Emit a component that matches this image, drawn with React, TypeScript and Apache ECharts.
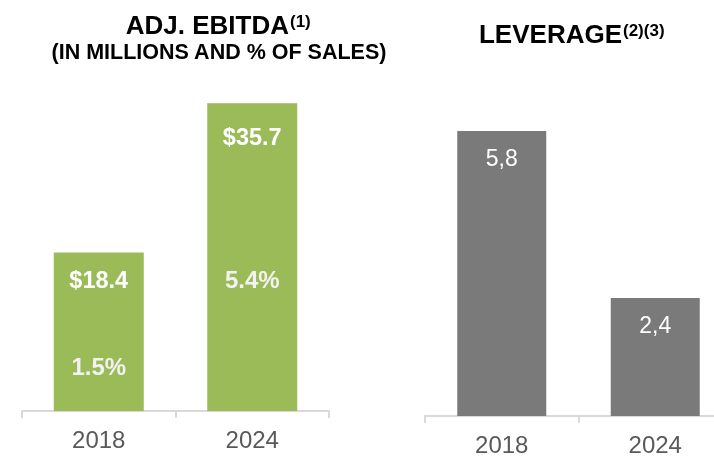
import React, { useEffect, useRef } from "react";
import * as echarts from "echarts";

const years = ["2018", "2024"];
const ebitda = [18.4, 35.7];
const ebitdaLabels = ["$18.4", "$35.7"];
const marginLabels = ["1.5%", "5.4%"];
const leverage = [5.8, 2.4];
const leverageLabels = ["5,8", "2,4"];

const FONT = "'Liberation Sans', Arial, sans-serif";
const GREEN = "#9BBB59";
const GREY = "#7A7A7A";
const AXIS = "#D9D9D9";
const TXT = "#595959";

// label layout (px) for the left bars
const topGap = [14.6, 20.7];
const midGap = [60.7, 116.3];

export default function App() {
  const ref = useRef<HTMLDivElement>(null);
  useEffect(() => {
    if (!ref.current) return;
    const chart = echarts.init(ref.current, undefined, { renderer: "svg" });
    const axisCommon = {
      type: "category",
      boundaryGap: true,
      axisLine: { show: true, lineStyle: { color: AXIS, width: 2 } },
      axisTick: { show: true, alignWithLabel: false, length: 7, lineStyle: { color: AXIS, width: 2 } },
      axisLabel: { color: TXT, fontSize: 24, fontFamily: FONT, margin: 16 },
    };
    chart.setOption({
      animation: false,
      grid: [
        { left: 22, width: 307, top: 66.2, height: 344.8 },
        { left: 425, width: 307, top: 72.1, height: 347.2 },
      ],
      xAxis: [
        { ...axisCommon, gridIndex: 0, data: years },
        { ...axisCommon, gridIndex: 1, data: years },
      ],
      yAxis: [
        { type: "value", gridIndex: 0, min: 0, max: 40, show: false, splitLine: { show: false } },
        { type: "value", gridIndex: 1, min: 0, max: 7, show: false, splitLine: { show: false } },
      ],
      series: [
        {
          type: "bar",
          xAxisIndex: 0,
          yAxisIndex: 0,
          barWidth: 90,
          itemStyle: { color: GREEN },
          data: ebitda.map((v, i) => ({
            value: v,
            label: {
              show: true,
              position: "insideTop",
              distance: topGap[i],
              formatter: `{v|${ebitdaLabels[i]}}\n{s| }\n{p|${marginLabels[i]}}`,
              rich: {
                v: { color: "#FFFFFF", fontSize: 23.5, fontWeight: "bold", fontFamily: FONT, lineHeight: 26 },
                s: { fontSize: 1, lineHeight: midGap[i] },
                p: { color: "#F2F2F2", fontSize: 24, fontWeight: "bold", fontFamily: FONT, lineHeight: 26 },
              },
            },
          })),
        },
        {
          type: "bar",
          xAxisIndex: 1,
          yAxisIndex: 1,
          barWidth: 89,
          itemStyle: { color: GREY },
          label: {
            show: true,
            position: "insideTop",
            distance: 14,
            color: "#FFFFFF",
            fontSize: 23,
            fontFamily: FONT,
            lineHeight: 26,
            formatter: (p: any) => leverageLabels[p.dataIndex],
          },
          data: leverage,
        },
      ],
      graphic: [
        {
          type: "text",
          x: 289,
          y: 25,
          style: { text: "ADJ. EBITDA", fill: "#000", font: `bold 26px ${FONT}`, textAlign: "right", textVerticalAlign: "middle" },
        },
        {
          type: "text",
          x: 290,
          y: 21,
          style: { text: "(1)", fill: "#000", font: `bold 17px ${FONT}`, textAlign: "left", textVerticalAlign: "middle" },
        },
        {
          type: "text",
          x: 219,
          y: 52,
          style: { text: "(IN MILLIONS AND % OF SALES)", fill: "#000", font: `bold 21.5px ${FONT}`, textAlign: "center", textVerticalAlign: "middle" },
        },
        {
          type: "text",
          x: 622,
          y: 34,
          style: { text: "LEVERAGE", fill: "#000", font: `bold 26px ${FONT}`, textAlign: "right", textVerticalAlign: "middle" },
        },
        {
          type: "text",
          x: 623,
          y: 30,
          style: { text: "(2)(3)", fill: "#000", font: `bold 17px ${FONT}`, textAlign: "left", textVerticalAlign: "middle" },
        },
      ],
    });
    return () => chart.dispose();
  }, []);
  return <div ref={ref} style={{ position: "fixed", left: 0, top: 0, width: 740, height: 456 }} />;
}
